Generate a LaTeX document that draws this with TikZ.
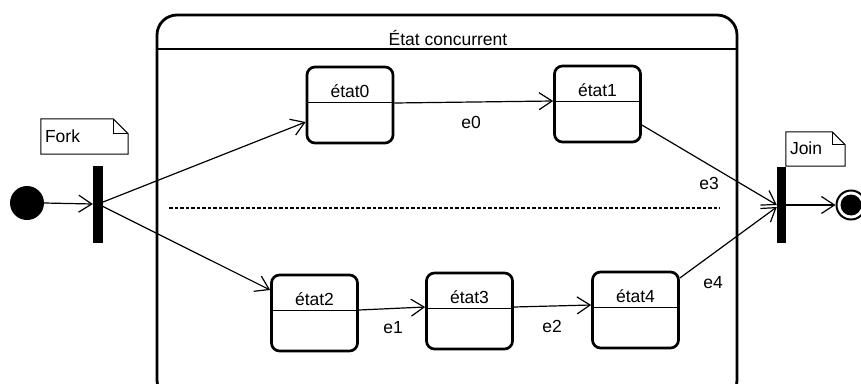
\documentclass[tikz,border=0pt]{standalone}
\usepackage{fontspec}
\setmainfont{Liberation Sans}
\usetikzlibrary{arrows.meta}
\begin{document}
\begin{tikzpicture}[x=1pt,y=-1pt,
  every node/.style={font=\fontsize{17.5}{20}\selectfont, inner sep=0pt},
  statebox/.style={draw, line width=2.7pt, rounded corners=8pt, minimum width=86pt, minimum height=76pt},
  sepline/.style={line width=1.1pt},
  conn/.style={line width=1.2pt, -{Straight Barb[length=13pt,width=17pt,line width=1.2pt]}},
  bar/.style={fill=black, draw=none, minimum width=10pt, minimum height=77pt},
  notebox/.style={draw=none, fill=none},
  noteline/.style={line width=1pt},
  lbl/.style={}
]
\useasboundingbox (0,0) rectangle (861,383);
% composite state
\draw[line width=2.8pt, rounded corners=20pt] (157,15) rectangle (737,400);
\coordinate (sepL) at (157,49);
\coordinate (sepR) at (737,49);
\draw[line width=1.4pt] (sepL) -- (sepR);
\node (title) at (448,38) {État concurrent};
% concurrency separator
\coordinate (dashL) at (169,208);
\coordinate (dashR) at (720,208);
\draw[line width=2.6pt, dash pattern=on 3.5pt off 2pt] (dashL) -- (dashR);

% states
\node[statebox] (s0) at (350,105) {};
\node[statebox] (s1) at (597.5,104) {};
\node[statebox] (s2) at (314.5,313) {};
\node[statebox] (s3) at (469.5,311) {};
\node[statebox] (s4) at (635.5,310) {};
\foreach \s/\t in {s0/état0, s1/état1, s2/état2, s3/état3, s4/état4}{
  \draw[sepline] ([yshift=2.5pt]\s.west) -- ([yshift=2.5pt]\s.east);
  \node (\s t) at ([yshift=14pt]\s.center) {\t};
}

% initial, fork, join, final
\node[circle, fill=black, minimum size=34pt] (init) at (27,203) {};
\node[bar] (fork) at (98,204) {};
\node[bar, minimum width=9pt, minimum height=76pt] (join) at (781.5,205) {};
\node[circle, draw, line width=2pt, minimum size=29pt] (final) at (851,205) {};
\node[circle, fill=black, minimum size=21pt] (finalin) at (851,205) {};

% notes
\node[notebox, minimum width=87pt, minimum height=35pt] (forknote) at (84.5,136.5) {};
\draw[noteline] (forknote.north west) -- ([xshift=-15pt]forknote.north east) -- ([yshift=-15pt]forknote.north east) -- (forknote.south east) -- (forknote.south west) -- cycle;
\draw[noteline] ([xshift=-15pt]forknote.north east) -- ([xshift=-15pt,yshift=-15pt]forknote.north east) -- ([yshift=-15pt]forknote.north east);
\node[anchor=west] (forktext) at ([xshift=4pt]forknote.west) {Fork};

\node[notebox, minimum width=59pt, minimum height=34pt] (joinnote) at (815.5,149) {};
\draw[noteline] (joinnote.north west) -- ([xshift=-13pt]joinnote.north east) -- ([yshift=-13pt]joinnote.north east) -- (joinnote.south east) -- (joinnote.south west) -- cycle;
\draw[noteline] ([xshift=-13pt]joinnote.north east) -- ([xshift=-13pt,yshift=-13pt]joinnote.north east) -- ([yshift=-13pt]joinnote.north east);
\node[anchor=west] (jointext) at ([xshift=4pt,yshift=1pt]joinnote.west) {Join};

% connectors
\draw[conn] (init.east) -- (fork.west);
\draw[conn] (fork.center) -- ([yshift=-17pt]s0.west);
\draw[conn] (fork.center) -- ([yshift=23pt]s2.west);
\draw[conn] ([yshift=2pt]s0.east) -- ([yshift=3pt]s1.west);
\draw[conn] ([yshift=-21pt]s1.east) -- (join.west);
\draw[conn] ([yshift=32pt]s4.east) -- ([yshift=-2pt]join.west);
\draw[conn] ([yshift=3pt]s2.east) -- ([yshift=4pt]s3.west);
\draw[conn] ([yshift=4pt]s3.east) -- ([yshift=5pt]s4.west);
\draw[conn] (join.east) -- (final.west);

% labels
\node[lbl] (e0) at (471,122) {e0};
\node[lbl] (e3) at (709,183) {e3};
\node[lbl] (e4) at (713,283) {e4};
\node[lbl] (e1) at (393,328) {e1};
\node[lbl] (e2) at (552,326) {e2};
\end{tikzpicture}
\end{document}
